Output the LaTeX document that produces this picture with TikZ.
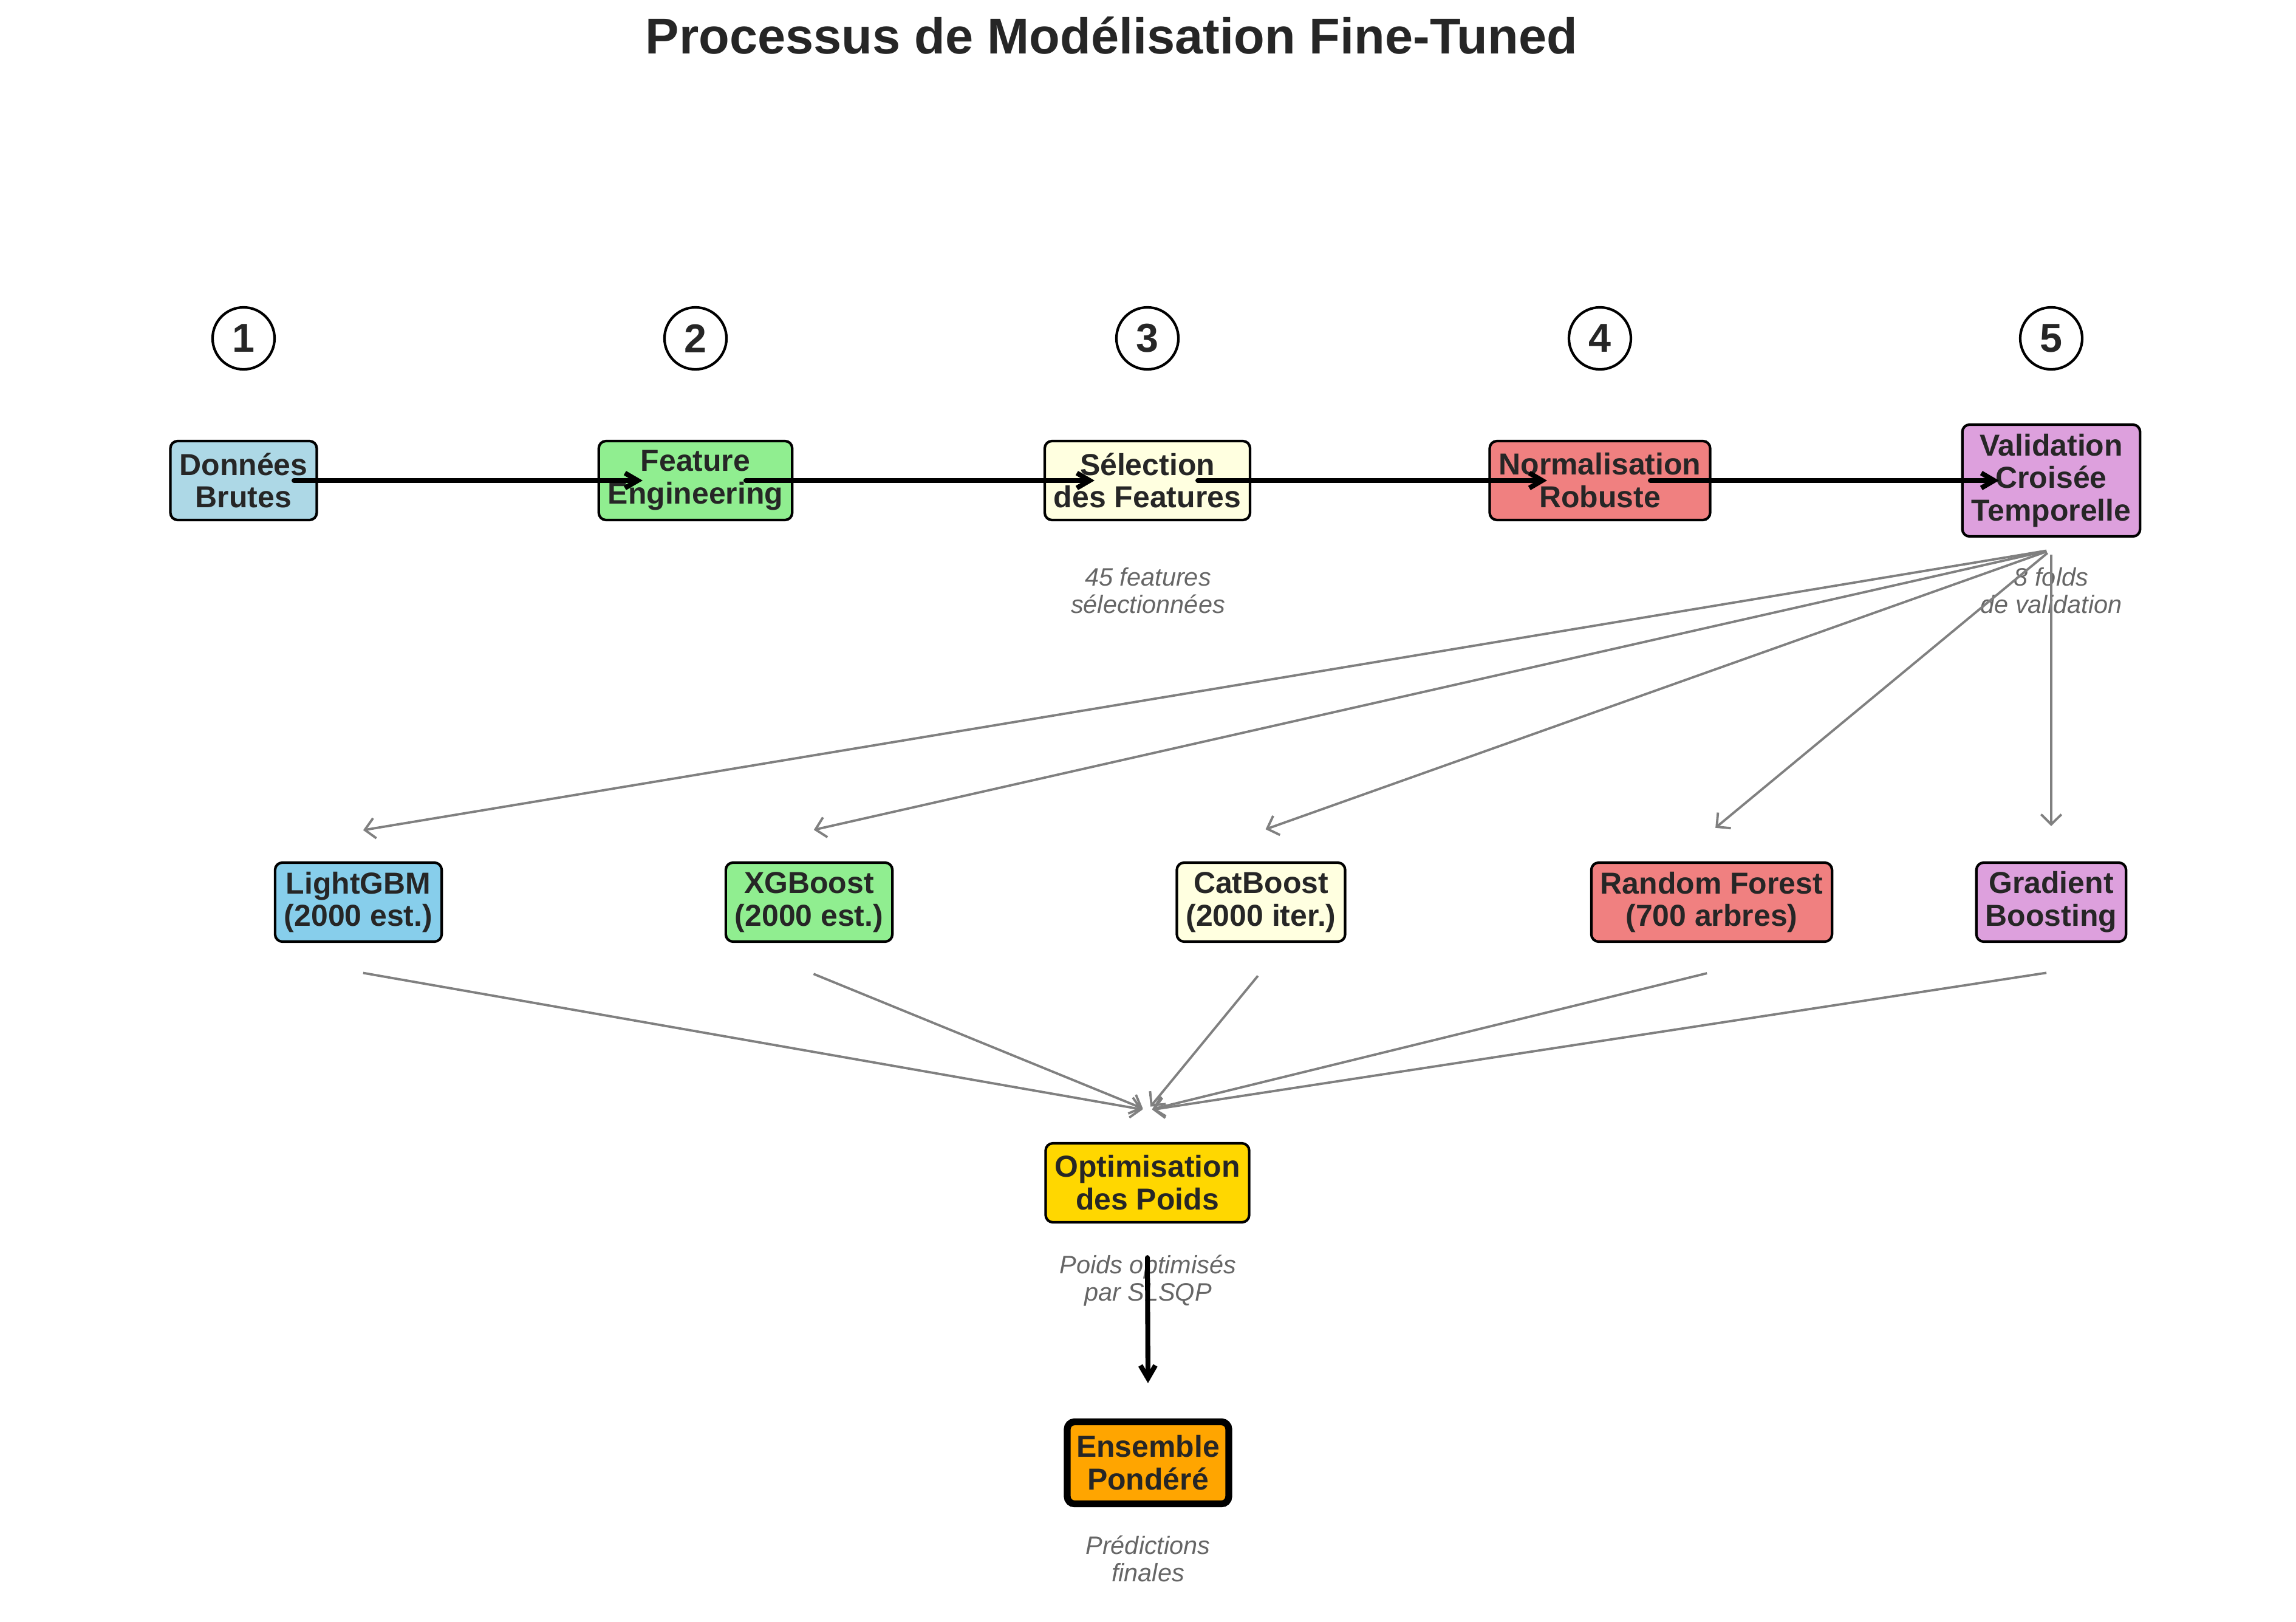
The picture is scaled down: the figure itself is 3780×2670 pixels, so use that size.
\documentclass[tikz,border=0pt]{standalone}
\usepackage{fontspec}
\setmainfont{Liberation Sans}
\usepackage{tikz}
\usetikzlibrary{positioning,arrows.meta}

\definecolor{txtdark}{HTML}{262626}
\definecolor{notegray}{HTML}{666666}
\definecolor{fangray}{HTML}{808080}
\definecolor{lblue}{HTML}{ADD8E6}
\definecolor{sky}{HTML}{87CEEB}
\definecolor{lgreen}{HTML}{90EE90}
\definecolor{lyellow}{HTML}{FFFFE0}
\definecolor{lcoral}{HTML}{F08080}
\definecolor{plum}{HTML}{DDA0DD}
\definecolor{gold}{HTML}{FFD700}
\definecolor{orange}{HTML}{FFA500}

\begin{document}
\begin{tikzpicture}[x=0.01cm, y=-0.01cm,
  box/.style={draw=black, line width=1.2pt, rounded corners=0.12cm, align=center,
    text=txtdark, font=\bfseries\fontsize{14.2}{15.3}\selectfont,
    inner xsep=0.15cm, inner ysep=0pt, minimum height=1.3cm},
  num/.style={circle, draw=black, fill=white, line width=1.2pt, minimum size=1.02cm,
    inner sep=0pt, text=txtdark, font=\bfseries\fontsize{18.9}{20}\selectfont},
  note/.style={align=center, text=notegray, font=\itshape\fontsize{11.8}{12.8}\selectfont},
  flow/.style={-{Straight Barb[length=6pt,width=7pt]}, line width=2.3pt, line cap=round},
  fan/.style={-{Straight Barb[length=4.7pt,width=9.5pt]}, color=fangray, line width=1.1pt,
    shorten <=0.08cm, shorten >=0.08cm}]
  \useasboundingbox (0,0) rectangle (3780,2670);

  \node[text=txtdark, font=\bfseries\fontsize{23.6}{26}\selectfont, anchor=base]
    (title) at (1830,89) {Processus de Modélisation Fine-Tuned};

  % etapes
  \node[box, fill=lblue] (brut) at (401,791) {Données\\Brutes};
  \node[box, fill=lgreen] (feat) at (1145,791) {Feature\\Engineering};
  \node[box, fill=lyellow] (sel) at (1889,791) {Sélection\\des Features};
  \node[box, fill=lcoral] (norm) at (2634,791) {Normalisation\\Robuste};
  \node[box, fill=plum, minimum height=1.84cm] (valid) at (3377,791)
    {Validation\\Croisée\\Temporelle};

  \foreach \i/\x in {1/401, 2/1145, 3/1889, 4/2634, 5/3377}
    \node[num] (n\i) at (\x,557) {\i};

  % modeles
  \node[box, fill=sky] (lgbm) at (590,1485) {LightGBM\\(2000 est.)};
  \node[box, fill=lgreen] (xgb) at (1332,1485) {XGBoost\\(2000 est.)};
  \node[box, fill=lyellow] (cat) at (2076,1485) {CatBoost\\(2000 iter.)};
  \node[box, fill=lcoral] (rf) at (2818,1485) {Random Forest\\(700 arbres)};
  \node[box, fill=plum] (gb) at (3377,1485) {Gradient\\Boosting};

  \node[box, fill=gold] (optim) at (1889,1947) {Optimisation\\des Poids};
  \node[box, fill=orange, line width=3.2pt, minimum height=1.35cm] (ens) at (1890,2408)
    {Ensemble\\Pondéré};

  % notes
  \node[note] (n-sel) at (1890,972) {45 features\\sélectionnées};
  \node[note] (n-valid) at (3377,972) {8 folds\\de validation};
  \node[note] (n-optim) at (1890,2108) {Poids optimisés\\par SLSQP};
  \node[note] (n-ens) at (1890,2566) {Prédictions\\finales};

  \coordinate (split) at ([yshift=-0.2cm]valid.south);
  \coordinate (merge) at ([yshift=0.52cm]optim.north);

  \draw[flow] ([xshift=0.83cm]brut.center) -- ([xshift=-0.87cm]feat.center);
  \draw[flow] ([xshift=0.83cm]feat.center) -- ([xshift=-0.87cm]sel.center);
  \draw[flow] ([xshift=0.83cm]sel.center) -- ([xshift=-0.87cm]norm.center);
  \draw[flow] ([xshift=0.83cm]norm.center) -- ([xshift=-0.86cm]valid.center);

  \path[fan]
    (split) edge ([yshift=0.5cm]lgbm.north)
    (split) edge ([yshift=0.5cm]xgb.north)
    (split) edge ([yshift=0.5cm]cat.north)
    (split) edge ([yshift=0.5cm]rf.north)
    (split) edge ([yshift=0.5cm]gb.north);

  \path[fan]
    ([yshift=-0.48cm]lgbm.south) edge (merge)
    ([yshift=-0.48cm]xgb.south) edge (merge)
    ([yshift=-0.48cm]cat.south) edge (merge)
    ([yshift=-0.48cm]rf.south) edge (merge)
    ([yshift=-0.48cm]gb.south) edge (merge);

  \draw[flow, shorten <=0.08cm, shorten >=0.08cm]
    ([yshift=-0.48cm]optim.south) -- ([yshift=0.5cm]ens.north);

\end{tikzpicture}
\end{document}
